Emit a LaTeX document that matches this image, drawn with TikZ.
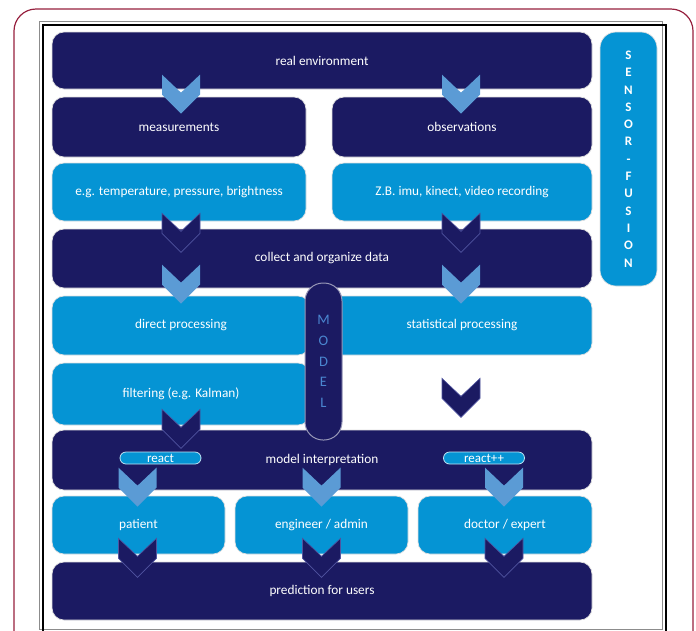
\documentclass[tikz,border=0pt]{standalone}
\usepackage{fontspec}
\setmainfont{Carlito}
\usetikzlibrary{calc}

\definecolor{navy}{RGB}{27,26,98}
\definecolor{skyfill}{RGB}{5,148,212}
\definecolor{chevlight}{RGB}{91,155,213}
\definecolor{modeltext}{RGB}{74,134,208}
\definecolor{maroon}{RGB}{150,32,62}
\definecolor{navyedge}{RGB}{80,84,160}

\tikzset{
  box/.style={rounded corners=12pt, minimum width=#1, inner sep=0pt,
    text=white, font=\fontsize{13.3}{15}\selectfont, draw=black!12, line width=0.7pt},
  darkbox/.style={box=#1, fill=navy},
  lightbox/.style={box=#1, fill=skyfill},
  pill/.style={rounded corners=6pt, fill=skyfill, draw=white!75!skyfill,
    line width=0.8pt, minimum width=81pt, minimum height=12pt, inner sep=0pt,
    text=white, font=\fontsize{13}{12}\selectfont},
  chev/.pic={\path[pic actions] (-19,0) -- (0,18) -- (19,0) -- (19,20) -- (0,39) -- (-19,20) -- cycle;},
  chevL/.style={fill=chevlight},
  chevD/.style={fill=navy, draw=navyedge, line width=0.6pt},
}

\begin{document}
\begin{tikzpicture}[x=1pt, y=-1pt]
\useasboundingbox (0,0) rectangle (696,630);
\clip (0,0) rectangle (696,630);

% outer page frame and inner double frame
\draw[maroon, line width=1.2pt, rounded corners=22pt] (14,9) rectangle (693,700);
\draw[black!45, line width=0.8pt] (39.5,21) rectangle (662.5,629.5);
\draw[black, line width=1.8pt] (43,25) rectangle (666,700);

% process boxes
\node[darkbox=540pt, minimum height=57pt] (realenv) at (322,60.5) {real environment};
\node[darkbox=254pt, minimum height=60pt] (meas) at (179,127) {measurements};
\node[darkbox=260pt, minimum height=60pt] (obs) at (462,127) {observations};
\node[lightbox=254pt, minimum height=58pt] (tempx) at (179,192) {e.g. temperature, pressure, brightness};
\node[lightbox=260pt, minimum height=58pt] (imux) at (462,192) {Z.B. imu, kinect, video recording};
\node[darkbox=540pt, minimum height=59pt] (collect) at (322,258.5) {collect and organize data};
\node[lightbox=258pt, minimum height=59pt] (direct) at (181,325.5) {direct processing};
\node[lightbox=282pt, minimum height=59pt] (stat) at (451,325.5) {\hspace*{22pt}statistical processing};
\node[lightbox=258pt, minimum height=62pt] (filter) at (181,394) {filtering (e.g. Kalman)};
\node[darkbox=540pt, minimum height=60pt] (modelint) at (322,460) {model interpretation};
\node[lightbox=173pt, minimum height=58pt] (patient) at (138.5,525) {patient};
\node[lightbox=173pt, minimum height=58pt] (engineer) at (321.5,525) {engineer / admin};
\node[lightbox=174pt, minimum height=58pt] (doctor) at (505,525) {doctor / expert};
\node[darkbox=540pt, minimum height=58pt] (predict) at (322,591) {prediction for users};

% side bars
\node[lightbox=57pt, minimum height=254pt, rounded corners=16pt, align=center,
      font=\fontsize{13}{17.3}\selectfont\bfseries] (sensor) at (628.5,159)
  {S\\E\\N\\S\\O\\R\\-\\F\\U\\S\\I\\O\\N};
\node[fill=navy, draw=white!55!navy, line width=1pt, rounded corners=18pt,
      minimum width=37pt, minimum height=157pt, inner sep=0pt, align=center,
      text=modeltext, font=\fontsize{14.5}{20.8}\selectfont] (model) at (323.5,361.5)
  {M\\O\\D\\E\\L};

% reaction tags inside the interpretation box
\node[pill] (react) at (160.5,458) {react};
\node[pill] (reactpp) at (484,458) {react++};

% chevrons between the stages
\pic[chevL] at ($(meas.north)+(2,-22)$) {chev};
\pic[chevL] at ($(obs.north)+(-1,-22)$) {chev};
\pic[chevD] at ($(tempx.south)+(2,-8)$) {chev};
\pic[chevD] at ($(imux.south)+(-1,-8)$) {chev};
\pic[chevL] at ($(direct.north)+(0,-31)$) {chev};
\pic[chevL] at ($(stat.north)+(10,-31)$) {chev};
\pic[chevD] at ($(stat.south)+(10,23)$) {chev};
\pic[chevD] at ($(filter.south)+(0,-16)$) {chev};
\pic[chevL] at ($(patient.north)+(-1,-28)$) {chev};
\pic[chevL] at ($(engineer.north)+(0,-28)$) {chev};
\pic[chevL] at ($(doctor.north)+(-1,-28)$) {chev};
\pic[chevD] at ($(patient.south)+(-1,-16)$) {chev};
\pic[chevD] at ($(engineer.south)+(0,-16)$) {chev};
\pic[chevD] at ($(doctor.south)+(-1,-16)$) {chev};
\end{tikzpicture}
\end{document}
